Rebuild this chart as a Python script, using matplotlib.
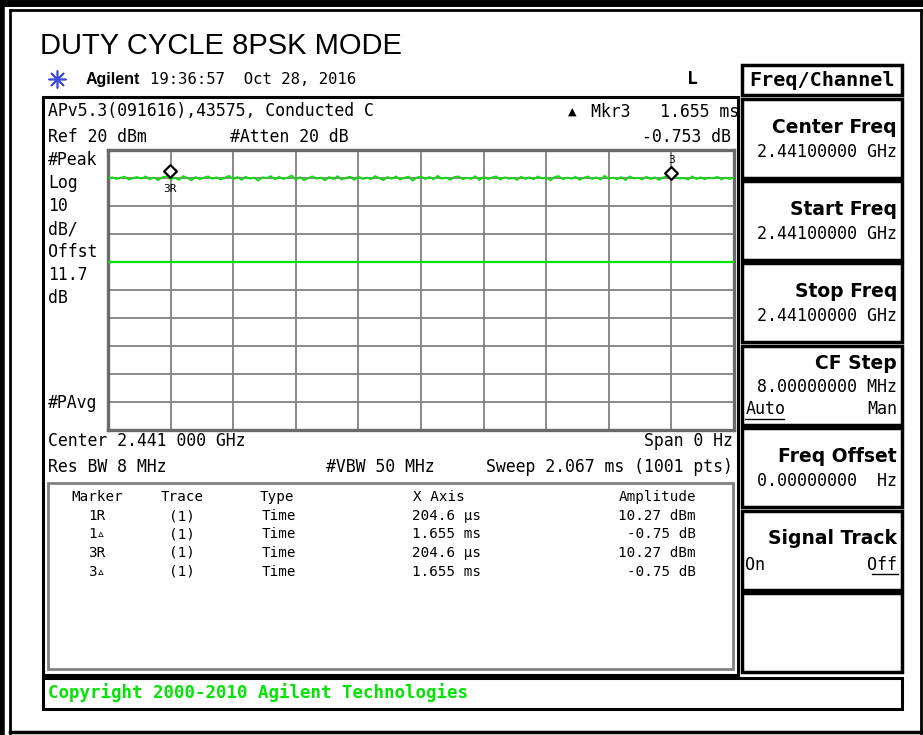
import matplotlib.pyplot as plt
import matplotlib.transforms as mtransforms
from matplotlib.patches import Rectangle
import numpy as np

# ---- data ----
sweep_ms = 2.067
ref_level = 20
db_per_div = 10
display_line = -20

# trace amplitude (dBm), evenly spaced over the sweep
trace_dbm = [
    9.8, 10.3, 9.6, 10.1, 10.5, 9.4, 10.0, 10.4, 9.7, 10.6,
    9.5, 10.2, 9.2, 10.3, 10.6, 9.6, 10.1, 9.3, 10.7, 10.0,
    9.1, 10.4, 9.5, 10.2, 10.6, 9.7, 10.3, 9.4, 10.1, 10.8,
    9.6, 10.4, 9.3, 10.5, 9.7, 10.2, 9.0, 10.3, 9.9, 10.7,
    9.5, 10.5, 9.6, 10.1, 10.9, 9.4, 10.3, 9.2, 10.0, 10.6,
    9.7, 10.2, 9.1, 10.4, 9.6, 10.7, 9.4, 10.1, 10.5, 9.3,
    10.6, 9.6, 10.2, 9.5, 10.7, 10.0, 9.2, 10.4, 9.7, 10.6,
    9.4, 10.1, 10.5, 9.0, 10.2, 10.6, 9.6, 10.4, 9.5, 10.8,
    9.7, 10.2, 9.3, 10.4, 10.6, 9.5, 10.1, 9.6, 10.7, 9.2,
    10.4, 9.6, 10.2, 10.6, 9.4, 10.3, 9.7, 10.1, 9.3, 10.5,
    9.6, 10.3, 9.5, 10.6, 9.8, 10.2, 9.1, 10.4, 10.7, 9.5,
    10.2, 9.7, 10.5, 9.3, 10.1, 10.6, 9.6, 10.3, 9.4, 10.8,
    9.7, 10.2, 9.5, 10.4, 9.2, 10.6, 9.8, 10.1, 9.4, 10.5,
    9.6, 10.3, 9.3, 10.2, 10.7, 9.5, 10.4, 9.7, 10.1, 9.4,
    10.6, 9.6, 10.3, 9.5, 10.2, 9.8, 10.5, 9.4, 10.2, 9.6, 10.1,
]
marker_times = [0.2046, 0.2046 + 1.655]
marker_amps = [10.27, 10.27 - 0.75]

header_left = ["APv5.3(091616),43575, Conducted C", "Ref 20 dBm"]
side_labels = ["#Peak", "Log", "10", "dB/", "Offst", "11.7", "dB"]
side_label_y = [160, 183, 206, 229, 252, 275, 298]

table_marker = ["1R", "1\u25b5", "3R", "3\u25b5"]
table_trace = ["(1)", "(1)", "(1)", "(1)"]
table_type = ["Time", "Time", "Time", "Time"]
table_x = ["204.6 \u00b5s", "1.655 ms", "204.6 \u00b5s", "1.655 ms"]
table_amp = ["10.27 dBm", "-0.75 dB", "10.27 dBm", "-0.75 dB"]

softkey_titles = ["Center Freq", "Start Freq", "Stop Freq", "CF Step",
                  "Freq Offset", "Signal Track", ""]
softkey_values = ["2.44100000 GHz", "2.44100000 GHz", "2.44100000 GHz",
                  "8.00000000 MHz", "0.00000000  Hz", "", ""]

MONO = ["DejaVu Sans Mono", "DejaVu Sans"]
GREEN = "#00e600"

fig = plt.figure(figsize=(9.23, 7.35), dpi=100)
ov = fig.add_axes([0, 0, 1, 1])
ov.set_xlim(0, 923)
ov.set_ylim(735, 0)
ov.axis("off")


def box(x0, y0, x1, y1, color="black", lw=2.0, z=1):
    ov.add_patch(Rectangle((x0, y0), x1 - x0, y1 - y0, fill=False,
                           edgecolor=color, linewidth=lw, zorder=z))


def txt(x, y, s, size=11.9, ha="left", family=MONO, **kw):
    ov.text(x, y, s, fontsize=size, ha=ha, va="center", family=family, **kw)


# page frame
ov.plot([0, 923], [3, 3], color="black", lw=5)
ov.plot([10, 921], [10, 10], color="black", lw=2)
ov.plot([2, 2], [0, 735], color="black", lw=4)
ov.plot([10, 10], [10, 733], color="black", lw=2)
ov.plot([921, 921], [10, 733], color="black", lw=2)
ov.plot([10, 921], [732, 732], color="black", lw=2.5)

# title and instrument header
txt(40, 46, "DUTY CYCLE 8PSK MODE", size=21, family="Liberation Sans")
ov.scatter([57], [79], marker=(8, 2, 0), s=150, color="#3a4bdc", linewidths=1.2)
txt(86, 79, "Agilent", size=11.5, family="Liberation Sans", fontweight="bold")
txt(150, 79, "19:36:57  Oct 28, 2016", size=11.2)
txt(687, 79, "L", size=13, fontweight="bold")

# display box
box(43, 97, 738, 675, lw=2.2)
txt(48, 111, header_left[0])
txt(48, 137, header_left[1])
txt(230, 137, "#Atten 20 dB")
txt(568, 112, "\u25b2", size=8, family="DejaVu Sans")
txt(591, 112, "Mkr3   1.655 ms")
txt(731, 137, "-0.753 dB", ha="right")
for s, y in zip(side_labels, side_label_y):
    txt(48, y, s)
txt(48, 403, "#PAvg")
txt(48, 441, "Center 2.441 000 GHz")
txt(733, 441, "Span 0 Hz", ha="right")
txt(48, 467, "Res BW 8 MHz")
txt(326, 467, "#VBW 50 MHz")
txt(733, 467, "Sweep 2.067 ms (1001 pts)", ha="right")

# marker table
box(48, 483, 733, 669, color="#808080", lw=2)
TS = 10.3
txt(97, 497, "Marker", size=TS, ha="center")
txt(182, 497, "Trace", size=TS, ha="center")
txt(260, 497, "Type", size=TS)
txt(413, 497, "X Axis", size=TS)
txt(696, 497, "Amplitude", size=TS, ha="right")
for i in range(len(table_marker)):
    y = 516 + i * 18.5
    txt(97, y, table_marker[i], size=TS, ha="center")
    txt(182, y, table_trace[i], size=TS, ha="center")
    txt(262, y, table_type[i], size=TS)
    txt(412, y, table_x[i], size=TS)
    txt(696, y, table_amp[i], size=TS, ha="right")

# copyright bar
box(43, 678, 902, 709, lw=2.2)
txt(48, 693, "Copyright 2000-2010 Agilent Technologies", size=12.5,
    color=GREEN, fontweight="bold")

# soft keys
box(742, 65, 902, 95, lw=2.5)
txt(822, 80, "Freq/Channel", size=14.5, ha="center", fontweight="bold")
tops = [99, 181, 263, 346, 428, 511, 593]
for top, title, value in zip(tops, softkey_titles, softkey_values):
    box(742, top, 902, top + 79, lw=2.5)
    if title == "CF Step":
        txt(897, top + 17, title, size=13.5, ha="right",
            family="DejaVu Sans", fontweight="bold")
        txt(897, top + 41, value, size=12, ha="right")
        txt(746, top + 63, "Auto", size=12)
        txt(897, top + 63, "Man", size=12, ha="right")
        ov.plot([745, 784], [top + 73, top + 73], color="black", lw=1)
    elif title == "Signal Track":
        txt(897, top + 27, title, size=13.5, ha="right",
            family="DejaVu Sans", fontweight="bold")
        txt(745, top + 54, "On", size=12)
        txt(897, top + 54, "Off", size=12, ha="right")
        ov.plot([872, 898], [top + 63, top + 63], color="black", lw=1)
    elif title:
        txt(897, top + 28, title, size=13.5, ha="right",
            family="DejaVu Sans", fontweight="bold")
        txt(897, top + 53, value, size=12, ha="right")

# ---- graticule and trace ----
ax = fig.add_axes([108 / 923, 1 - 430 / 735, 626 / 923, 280 / 735])
bottom = ref_level - 10 * db_per_div
ax.set_xlim(0, sweep_ms)
ax.set_ylim(bottom, ref_level)
ax.set_xticks(np.linspace(0, sweep_ms, 11))
ax.set_yticks(np.linspace(bottom, ref_level, 11))
ax.tick_params(length=0, labelbottom=False, labelleft=False)
ax.grid(True, color="#808080", linewidth=1.3)
for sp in ax.spines.values():
    sp.set_color("#6a6a6a")
    sp.set_linewidth(2.4)

t = np.linspace(0, sweep_ms, len(trace_dbm))
ax.plot(t, trace_dbm, color=GREEN, lw=1.2, zorder=3)
ax.axhline(display_line, color=GREEN, lw=1.6, zorder=3)

up = ax.transData + mtransforms.ScaledTranslation(0, 6 / 100, fig.dpi_scale_trans)
ax.scatter(marker_times, marker_amps, marker="D", s=42, facecolor="white",
           edgecolor="black", linewidths=1.6, transform=up, zorder=5)
ax.annotate("3R", (marker_times[0], marker_amps[0]), xytext=(0, -12),
            textcoords="offset pixels", ha="center", va="center",
            fontsize=8, family=MONO)
ax.annotate("3", (marker_times[1], marker_amps[1]), xytext=(0, 19),
            textcoords="offset pixels", ha="center", va="center",
            fontsize=8, family=MONO)

fig.savefig("out.png", dpi=100)
